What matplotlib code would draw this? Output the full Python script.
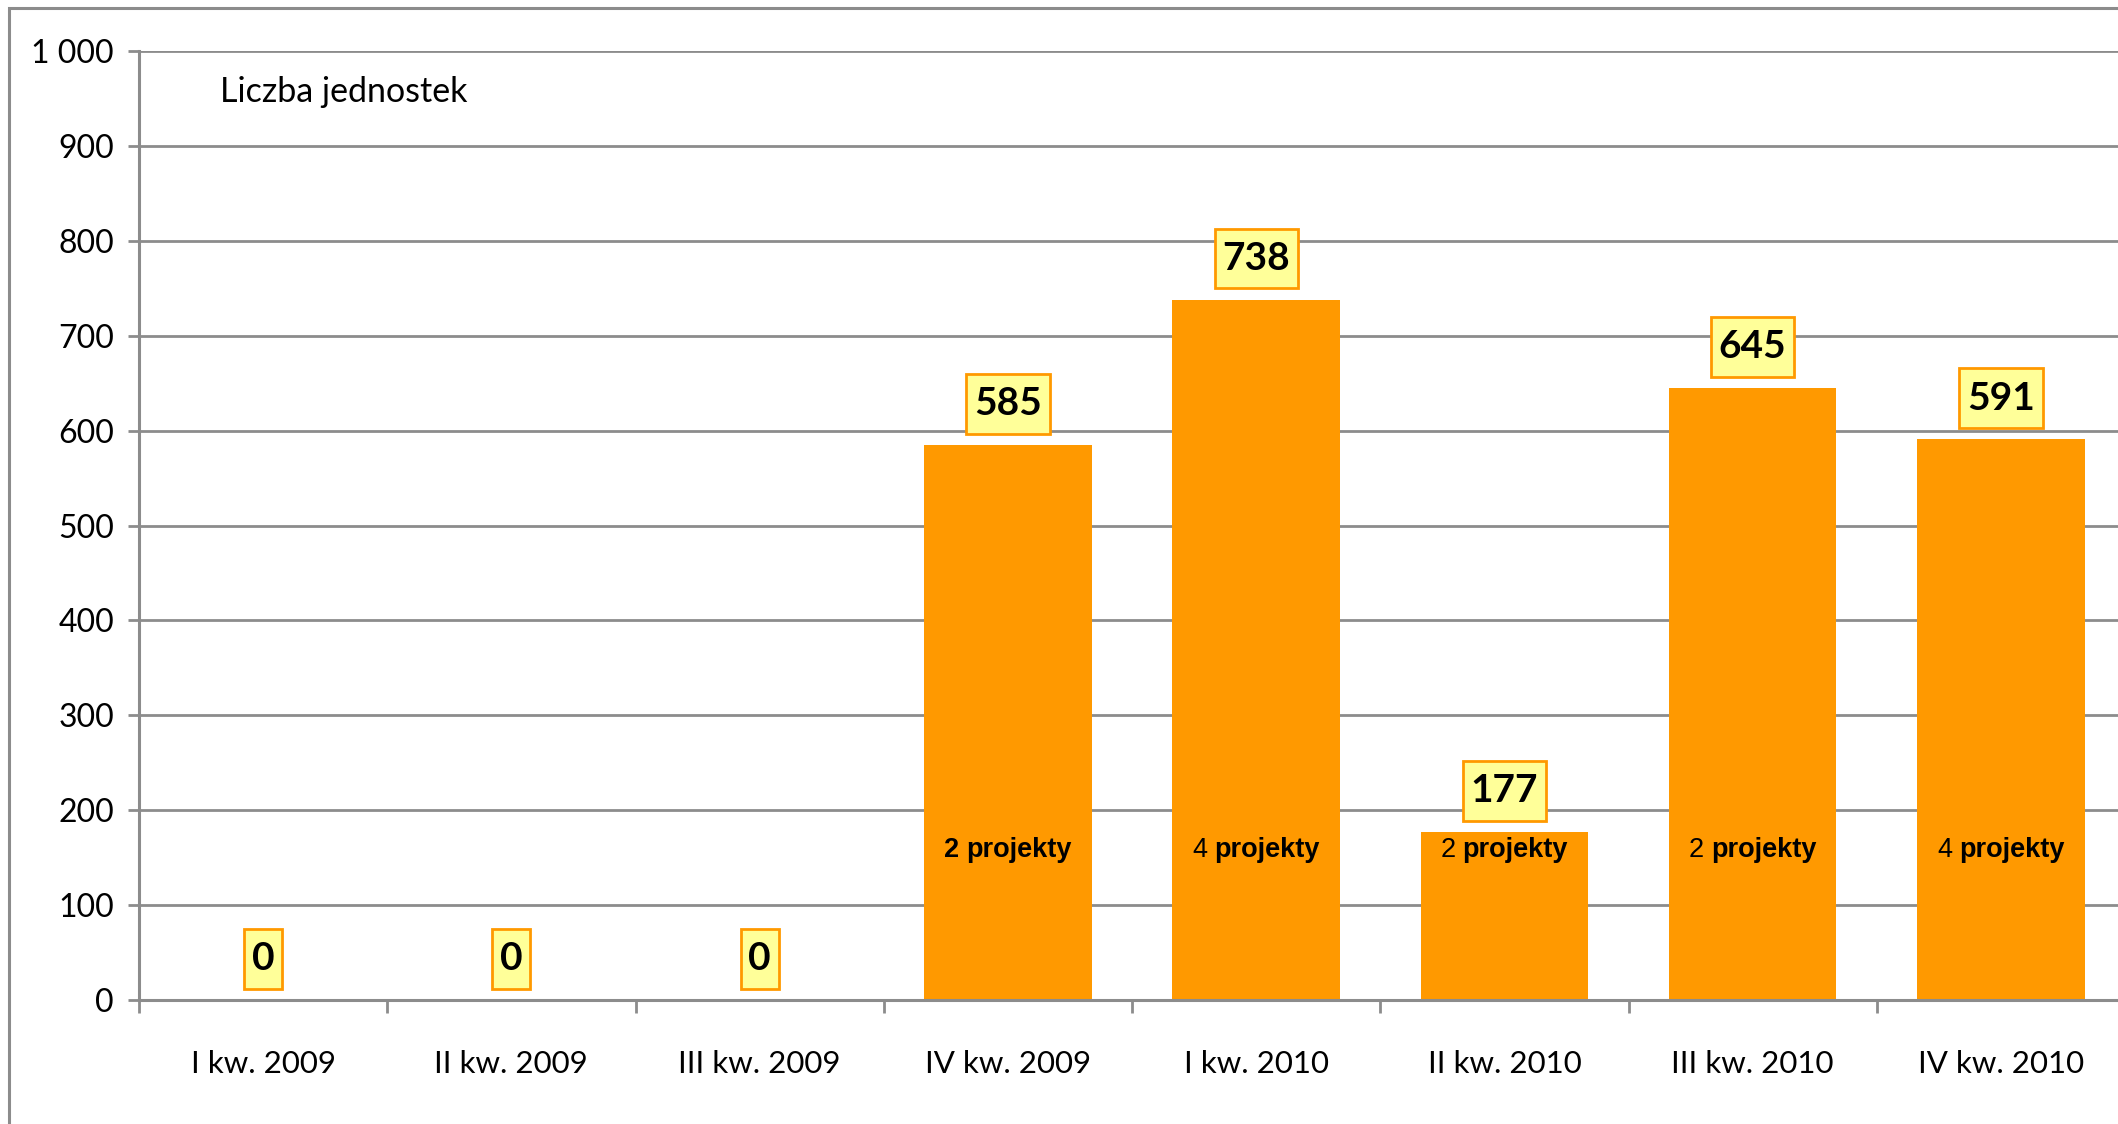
import matplotlib.pyplot as plt
from matplotlib.patches import Rectangle
from matplotlib.path import Path
from matplotlib.ticker import FuncFormatter

# data
quarters = ["I kw. 2009", "II kw. 2009", "III kw. 2009", "IV kw. 2009",
            "I kw. 2010", "II kw. 2010", "III kw. 2010", "IV kw. 2010"]
units = [0, 0, 0, 585, 738, 177, 645, 591]
projects = ["", "", "", "2", "4", "2", "2", "4"]
count_bold = [False, False, False, True, False, False, False, False]

orange = "#FF9900"
yellow = "#FFFF99"
grey = "#8C8C8C"
font = "Lato"


def tall_box(x0, y0, width, height, mutation_size):
    # square box with more padding top/bottom than left/right
    px = 0.2 * mutation_size
    py = 0.32 * mutation_size
    x0, y0 = x0 - px, y0 - py
    x1, y1 = x0 + width + 2 * px, y0 + height + 2 * py
    return Path([(x0, y0), (x1, y0), (x1, y1), (x0, y1), (x0, y0)], closed=True)


fig = plt.figure(figsize=(21.18, 11.24), dpi=100)
ax = fig.add_axes([139 / 2118, 124 / 1124, 1986 / 2118, 949 / 1124])

# outer chart frame (runs off the right and bottom edge like the original)
fig.add_artist(Rectangle((9 / 2118, -0.1), 1.2, 1.1 - 8 / 1124,
                         transform=fig.transFigure, fill=False,
                         edgecolor=grey, linewidth=2.2, clip_on=False))

x = list(range(len(quarters)))
ax.bar(x, units, width=0.675, color=orange, zorder=2)

ax.set_xlim(-0.5, len(quarters) - 0.5)
ax.set_ylim(0, 1000)
ax.set_yticks(range(0, 1001, 100))
ax.yaxis.set_major_formatter(FuncFormatter(lambda v, p: f"{int(v):,}".replace(",", " ")))
ax.grid(axis="y", color=grey, linewidth=2, zorder=0)

# category boundaries as ticks, labels on the centres
ax.set_xticks([i - 0.5 for i in range(len(quarters) + 1)])
ax.set_xticklabels([])
ax.set_xticks(x, minor=True)
ax.set_xticklabels(quarters, minor=True, fontsize=22.5, family=font)
ax.tick_params(axis="x", which="major", direction="out", length=9, width=2, color=grey)
ax.tick_params(axis="x", which="minor", length=0, pad=36)
ax.tick_params(axis="y", direction="out", length=8, width=2, color=grey,
               labelsize=23, pad=10)
for lbl in ax.get_yticklabels():
    lbl.set_family(font)

for side in ["top", "right"]:
    ax.spines[side].set_visible(False)
for side in ["left", "bottom"]:
    ax.spines[side].set_color(grey)
    ax.spines[side].set_linewidth(2.2)
    ax.spines[side].set_zorder(3)

# value boxes
for xi, v in zip(x, units):
    ax.annotate(str(v), (xi, v), xytext=(0, 17), textcoords="offset points",
                ha="center", va="bottom", fontsize=28, fontweight="bold",
                family=font, zorder=5,
                bbox=dict(boxstyle=tall_box, facecolor=yellow,
                          edgecolor=orange, linewidth=2))

# project counts inside bars
for xi, n, b in zip(x, projects, count_bold):
    if not n:
        continue
    ax.annotate(n, (xi, 158), xytext=(-35, 0), textcoords="offset points",
                ha="right", va="center", fontsize=19.5,
                fontweight="bold" if b else "normal",
                family="Liberation Sans", zorder=4)
    ax.annotate("projekty", (xi, 158), xytext=(-30, 0), textcoords="offset points",
                ha="left", va="center", fontsize=19.5, fontweight="bold",
                family="Liberation Sans", zorder=4)

ax.text(0.041, 0.957, "Liczba jednostek", transform=ax.transAxes,
        fontsize=24.5, family=font, va="center", ha="left")

fig.savefig("out.png", dpi=100)
